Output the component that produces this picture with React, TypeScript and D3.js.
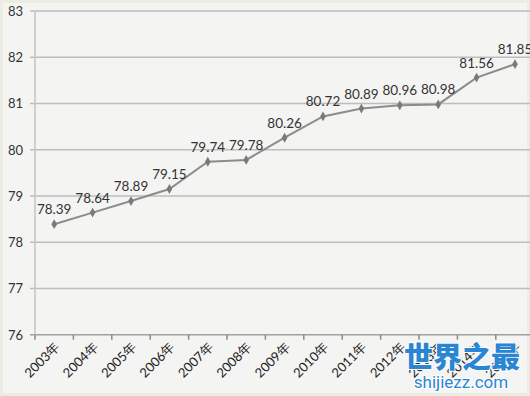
import React, { useRef, useEffect } from 'react';
import * as d3 from 'd3';

const years = ['2003年', '2004年', '2005年', '2006年', '2007年', '2008年', '2009年', '2010年', '2011年', '2012年', '2013年', '2014年', '2015年'];
const values = [78.39, 78.64, 78.89, 79.15, 79.74, 79.78, 80.26, 80.72, 80.89, 80.96, 80.98, 81.56, 81.85];
const yTicks = [76, 77, 78, 79, 80, 81, 82, 83];

export default function App() {
  const ref = useRef<SVGSVGElement | null>(null);

  useEffect(() => {
    if (!ref.current) return;
    const width = 530;
    const height = 396;
    const left = 35;
    const band = 38.4;

    const svg = d3.select(ref.current);
    svg.selectAll('*').remove();

    svg.append('rect')
      .attr('x', 0).attr('y', 0)
      .attr('width', width).attr('height', height)
      .attr('fill', '#f4f4f3');
    svg.append('rect')
      .attr('x', 1.5).attr('y', 1.5)
      .attr('width', width - 3).attr('height', height - 3)
      .attr('fill', 'none')
      .attr('stroke', '#ecece0')
      .attr('stroke-width', 3);

    const x = d3.scaleBand<string>().domain(years).range([left, left + band * years.length]);
    const y = d3.scaleLinear().domain([76, 83]).range([334.7, 11]);

    // gridlines
    svg.append('g')
      .selectAll('line')
      .data(yTicks)
      .enter().append('line')
      .attr('x1', left - 5).attr('x2', width)
      .attr('y1', d => y(d)).attr('y2', d => y(d))
      .attr('stroke', d => (d === 76 ? '#a0a0a0' : '#bdbdbd'))
      .attr('stroke-width', 1.5);

    // y axis line
    svg.append('line')
      .attr('x1', left).attr('x2', left)
      .attr('y1', y(83)).attr('y2', y(76))
      .attr('stroke', '#c4c4c4')
      .attr('stroke-width', 1.5);

    // y labels
    svg.append('g')
      .selectAll('text')
      .data(yTicks)
      .enter().append('text')
      .attr('x', 23)
      .attr('y', d => y(d) + 5)
      .attr('text-anchor', 'end')
      .attr('font-family', 'Lato, sans-serif')
      .attr('font-size', 13)
      .attr('fill', '#333')
      .text(d => d);

    // x ticks
    const tickPos = d3.range(years.length + 1).map(i => left + i * band);
    svg.append('g')
      .selectAll('line')
      .data(tickPos)
      .enter().append('line')
      .attr('x1', d => d).attr('x2', d => d)
      .attr('y1', y(76)).attr('y2', y(76) + 5)
      .attr('stroke', '#8a8a8a')
      .attr('stroke-width', 1.5);

    // x labels
    svg.append('g')
      .selectAll('text')
      .data(years)
      .enter().append('text')
      .attr('transform', d => `translate(${(x(d) as number) + x.bandwidth() / 2 + 3}, ${y(76) + 10}) rotate(-45)`)
      .attr('text-anchor', 'end')
      .attr('dy', '0.35em')
      .attr('font-family', 'Lato, sans-serif')
      .attr('font-size', 13)
      .attr('fill', '#222')
      .text(d => d);

    // line
    const cx = (i: number) => (x(years[i]) as number) + x.bandwidth() / 2;
    const line = d3.line<number>()
      .x((_, i) => cx(i))
      .y(d => y(d));
    svg.append('path')
      .datum(values)
      .attr('d', line)
      .attr('fill', 'none')
      .attr('stroke', '#8c8c8c')
      .attr('stroke-width', 2);

    // markers
    const diamond = d3.symbol().type(d3.symbolDiamond).size(28);
    svg.append('g')
      .selectAll('path')
      .data(values)
      .enter().append('path')
      .attr('transform', (d, i) => `translate(${cx(i)}, ${y(d)})`)
      .attr('d', diamond)
      .attr('fill', '#7a7a7a');

    // data labels
    svg.append('g')
      .selectAll('text')
      .data(values)
      .enter().append('text')
      .attr('x', (d, i) => cx(i))
      .attr('y', d => y(d) - 10)
      .attr('text-anchor', 'middle')
      .attr('font-family', 'Lato, sans-serif')
      .attr('font-size', 13.5)
      .attr('fill', '#333')
      .text(d => d.toFixed(2));

    // watermark
    svg.append('text')
      .attr('x', 462).attr('y', 368)
      .attr('text-anchor', 'middle')
      .attr('font-family', '"Noto Sans CJK SC", sans-serif')
      .attr('font-weight', 900)
      .attr('font-size', 29)
      .attr('fill', '#2a85d3')
      .attr('stroke', '#ffffff')
      .attr('stroke-width', 2)
      .attr('paint-order', 'stroke')
      .text('世界之最');
    svg.append('text')
      .attr('x', 461).attr('y', 388)
      .attr('text-anchor', 'middle')
      .attr('font-family', 'Roboto, sans-serif')
      .attr('font-size', 17)
      .attr('fill', '#2a85d3')
      .attr('stroke', '#ffffff')
      .attr('stroke-width', 2)
      .attr('paint-order', 'stroke')
      .text('shijiezz.com');
  }, []);

  return (
    <svg
      ref={ref}
      width={530}
      height={396}
      style={{ position: 'absolute', left: 0, top: 0, display: 'block' }}
    />
  );
}
